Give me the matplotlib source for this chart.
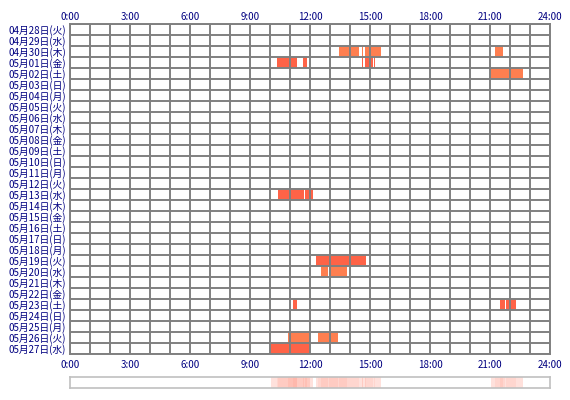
import datetime
import numpy as np
import matplotlib
matplotlib.use("Agg")
import matplotlib.pyplot as plt
from matplotlib.colors import to_rgb

plt.rcParams['font.family'] = ['Noto Sans CJK JP', 'DejaVu Sans']

# day labels (04/28 .. 05/27)
weekdays = ['月', '火', '水', '木', '金', '土', '日']
first_day = datetime.date(2015, 4, 28)
days = [first_day + datetime.timedelta(days=i) for i in range(30)]
day_labels = ['%02d月%02d日(%s)' % (d.month, d.day, weekdays[d.weekday()]) for d in days]

# sessions: row index, start, end
sess_day = [2, 2, 2, 2,
            3, 3, 3, 3, 3,
            4,
            15, 15,
            21,
            22, 22,
            25, 25, 25,
            28, 28,
            29]
sess_start = ['13:27', '14:35', '14:44', '21:15',
              '10:21', '11:39', '14:35', '14:44', '15:12',
              '21:03',
              '10:24', '11:46',
              '12:18',
              '12:33', '12:57',
              '11:09', '21:30', '21:48',
              '10:54', '12:24',
              '10:03']
sess_end = ['14:27', '14:40', '15:32', '21:38',
            '11:20', '11:51', '14:38', '15:10', '15:15',
            '22:39',
            '11:42', '12:08',
            '14:47',
            '12:53', '13:50',
            '11:21', '21:45', '22:17',
            '12:00', '13:23',
            '12:00']

hour_labels = ['0:00', '3:00', '6:00', '9:00', '12:00', '15:00', '18:00', '21:00', '24:00']


def to_h(s):
    h, m = s.split(':')
    return int(h) + int(m) / 60.0


starts = np.array([to_h(s) for s in sess_start])
ends = np.array([to_h(s) for s in sess_end])
rows = np.array(sess_day)

navy = '#000080'
grid_c = '#808080'

fig = plt.figure(figsize=(5.7, 4.0), dpi=100)
ax = fig.add_axes([70 / 570, 1 - 354 / 400, 480 / 570, 330 / 400])

colors = ['#FF6347' if r % 2 else '#FF7F50' for r in rows]
ax.barh(rows, ends - starts, left=starts, height=1.0, color=colors, zorder=1)

ax.set_xlim(0, 24)
ax.set_ylim(len(days) - 0.5, -0.5)
ax.set_xticks(np.arange(0, 25, 3))
ax.set_xticklabels(hour_labels)
ax.set_yticks(np.arange(len(days)))
ax.set_yticklabels(day_labels)
ax.tick_params(axis='both', which='both', length=0)
ax.tick_params(axis='x', labelsize=7, colors=navy, pad=4)
ax.tick_params(axis='y', labelsize=7, colors=navy, pad=3)

top = ax.secondary_xaxis('top')
top.set_xticks(np.arange(0, 25, 3))
top.set_xticklabels(hour_labels)
top.tick_params(length=0, labelsize=7, colors=navy, pad=1.5)
top.spines['top'].set_visible(False)

for x in range(25):
    ax.axvline(x, color=grid_c, lw=1.4, zorder=3)
for y in range(len(days) + 1):
    ax.axhline(y - 0.5, color=grid_c, lw=1.4, zorder=3)
for sp in ax.spines.values():
    sp.set_color(grid_c)
    sp.set_linewidth(1.4)
    sp.set_zorder(4)

# summary strip: how many days were active at each minute
ax2 = fig.add_axes([70 / 570, 1 - 388 / 400, 480 / 570, 11 / 400])
minutes = np.arange(0, 24 * 60) / 60.0
counts = np.zeros(len(minutes))
for s, e in zip(starts, ends):
    counts[(minutes >= s) & (minutes < e)] += 1
alpha = np.where(counts > 0, np.minimum(0.12 + 0.07 * counts, 0.45), 0.0)
base = np.array(to_rgb('#FF6347'))
strip = 1 - alpha[:, None] * (1 - base[None, :])
ax2.imshow(strip[None, :, :], aspect='auto', extent=[0, 24, 0, 1],
           interpolation='nearest')
ax2.set_xlim(0, 24)
ax2.set_ylim(0, 1)
ax2.set_xticks([])
ax2.set_yticks([])
for sp in ax2.spines.values():
    sp.set_color('#C0C0C0')
    sp.set_linewidth(1.2)

fig.savefig('out.png', dpi=100)
